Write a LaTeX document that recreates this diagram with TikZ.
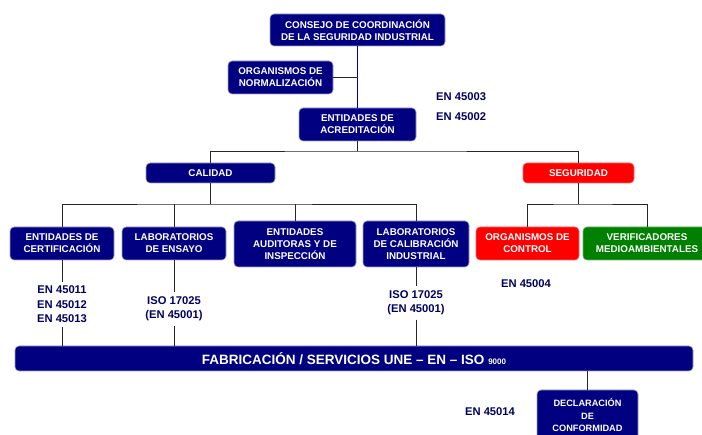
\documentclass[tikz,border=0pt]{standalone}
\usepackage{fontspec}
\setmainfont{Liberation Sans}
\definecolor{navyb}{RGB}{0,0,128}
\definecolor{redb}{RGB}{255,0,0}
\definecolor{greenb}{RGB}{0,128,0}
\definecolor{bord}{RGB}{160,160,200}
\definecolor{labc}{RGB}{0,0,100}
\tikzset{
  bx/.style={rounded corners=4pt, fill=navyb, draw=bord, line width=0.6pt, text=white,
    font=\bfseries\fontsize{9.8}{12}\selectfont, align=center, inner sep=0pt},
  redbx/.style={bx, fill=redb, draw=redb!60},
  greenbx/.style={bx, fill=greenb, draw=greenb!60},
  lab/.style={text=labc, font=\bfseries\fontsize{11.2}{14.5}\selectfont, align=center, inner sep=4pt},
  ln/.style={draw=black!85, line width=0.7pt},
  lnb/.style={draw=navyb, line width=0.8pt}
}
\begin{document}
\begin{tikzpicture}[x=1pt,y=-1pt]
\useasboundingbox[fill=white] (0,0) rectangle (702,435);
% boxes
\node[bx, minimum width=175, minimum height=32] (consejo) at (357.5,30) {CONSEJO DE COORDINACIÓN\\DE LA SEGURIDAD INDUSTRIAL};
\node[bx, minimum width=105, minimum height=33] (norm) at (280.5,77.5) {ORGANISMOS DE\\NORMALIZACIÓN};
\node[bx, minimum width=117, minimum height=33] (acred) at (357.5,124.5) {ENTIDADES DE\\ACREDITACIÓN};
\node[lab, anchor=west] (en3) at (432,97) {EN 45003};
\node[lab, anchor=west] (en2) at (432,117) {EN 45002};
\node[bx, minimum width=129, minimum height=20] (cal) at (210.5,173) {CALIDAD};
\node[redbx, minimum width=111, minimum height=20] (seg) at (578.5,173) {SEGURIDAD};
\node[bx, minimum width=104, minimum height=33] (cert) at (62,243.5) {ENTIDADES DE\\CERTIFICACIÓN};
\node[bx, minimum width=104, minimum height=33] (ensayo) at (174,243.5) {LABORATORIOS\\DE ENSAYO};
\node[bx, minimum width=122, minimum height=46] (audit) at (295,244) {ENTIDADES\\AUDITORAS Y DE\\INSPECCIÓN};
\node[bx, minimum width=106, minimum height=46] (calib) at (416,244) {LABORATORIOS\\DE CALIBRACIÓN\\INDUSTRIAL};
\node[redbx, minimum width=103, minimum height=33] (ctrl) at (527.5,243.5) {ORGANISMOS DE\\CONTROL};
\node[greenbx, minimum width=128, minimum height=33] (verif) at (647,243.5) {VERIFICADORES\\MEDIOAMBIENTALES};
% labels
\node[lab] (certlab) at (62,304.5) {EN 45011\\EN 45012\\EN 45013};
\node[lab] (enslab) at (174,309) {ISO 17025\\(EN 45001)};
\node[lab] (callab) at (416,303) {ISO 17025\\(EN 45001)};
\node[lab] (en4) at (526,284) {EN 45004};
% bar
\node[bx, minimum width=678, minimum height=25, font=\bfseries\fontsize{13.5}{15}\selectfont] (fab) at (354,358.5) {FABRICACIÓN / SERVICIOS UNE – EN – ISO {\fontsize{8}{9}\selectfont 9000}};
\node[bx, minimum width=101, minimum height=50, font=\bfseries\fontsize{9.2}{12.5}\selectfont] (dec) at (587.5,415) {DECLARACIÓN\\DE\\CONFORMIDAD};
\node[lab] (en14) at (490,412) {EN 45014};
% connectors
\coordinate (j1) at (357.5,151);
\coordinate (j2) at (210.5,204);
\coordinate (j3) at (578.5,204);
\draw[lnb] (consejo.south) -- (acred.north);
\draw[ln] (norm.east) -- (norm.east -| consejo.south);
\draw[ln] (acred.south) -- (j1);
\draw[ln] (cal.north) |- (j1) -| (seg.north);
\draw[ln] (cal.south) -- (j2);
\draw[ln] (cert.north) |- (j2) -| (calib.north);
\draw[ln] (ensayo.north) -- (ensayo.north |- j2);
\draw[ln] (audit.north) -- (audit.north |- j2);
\draw[ln] (seg.south) -- (j3);
\draw[ln] (ctrl.north) |- (j3) -| (verif.north);
\draw[ln] (cert.south) -- (certlab.north);
\draw[ln] (certlab.south) -- (certlab.south |- fab.north);
\draw[ln] (ensayo.south) -- (enslab.north);
\draw[ln] (enslab.south) -- (enslab.south |- fab.north);
\draw[ln] (calib.south) -- (callab.north);
\draw[ln] (callab.south) -- (callab.south |- fab.north);
\draw[ln] (fab.south -| dec.north) -- (dec.north);
\end{tikzpicture}
\end{document}
